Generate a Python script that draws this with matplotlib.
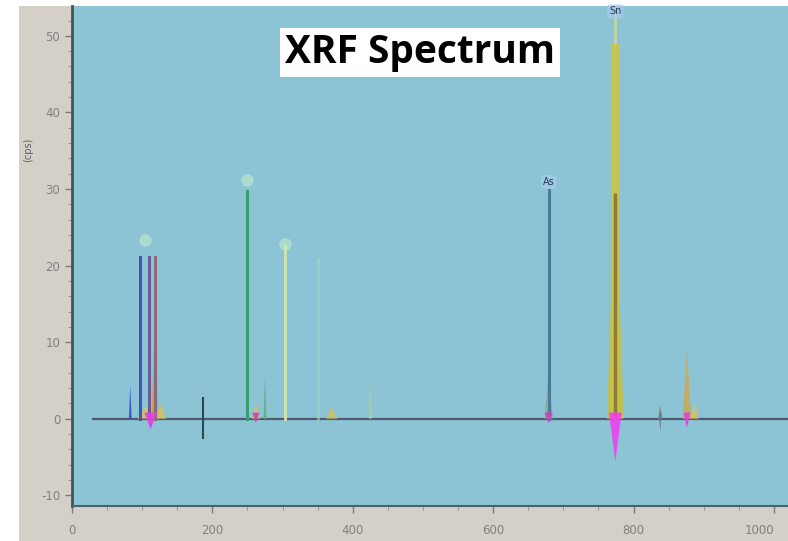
import matplotlib
matplotlib.use("Agg")
import matplotlib.pyplot as plt
from matplotlib.patches import Rectangle

# ---- data ----
title = "XRF Spectrum"
y_label = "(cps)"
x_ticks = [0, 200, 400, 600, 800, 1000]
x_ticklabels = ["0", "200", "400", "600", "800", "1000"]
y_ticks = [-10, 0, 10, 20, 30, 40, 50]
y_ticklabels = ["-10", "0", "10", "20", "30", "40", "50"]

# element marker lines (position, height)
stick_pos = [97, 110, 118, 249, 303, 350, 679, 774]
stick_h = [21.1, 21.1, 21.1, 29.8, 22.5, 20.8, 29.9, 53.6]
stick_col = ["#4454b0", "#6a5a98", "#8a6a78", "#3a9e6e", "#d6e6a8", "#a9d2b8",
             "#4a7a98", "#c8dca0"]
stick_alpha = [1.0, 1.0, 1.0, 1.0, 0.9, 0.6, 1.0, 0.8]

# broad main peak bands (position, height)
band_pos = [774, 774]
band_h = [49.0, 29.5]
band_col = ["#c8c448", "#8a7436"]
band_lw = [6, 2.5]

# element labels (position, height, text)
label_pos = [104, 249, 303, 679, 774]
label_h = [23.4, 31.2, 22.8, 30.9, 53.2]
label_txt = ["", "", "", "As", "Sn"]

# filled peaks (centre, height, half width)
peak_pos = [83, 105, 118, 126, 275, 262, 370, 425, 679, 774, 838, 876, 887]
peak_h = [4.4, 1.5, 11.6, 2.0, 5.8, 2.0, 1.5, 5.0, 6.0, 32.0, 1.8, 9.0, 2.0]
peak_hw = [2, 12, 5, 8, 2, 6, 8, 2, 6, 12, 3, 6, 6]
peak_col = ["#3048c8", "#d8c060", "#d49a30", "#d8c060", "#58b078", "#d0c060",
            "#d0c060", "#a8d0a0", "#8aa890", "#c8c040", "#7a8a90",
            "#d0a850", "#d8c060"]

# negative lobes (centre, depth, half width)
neg_pos = [112, 187, 262, 679, 774, 838, 876]
neg_d = [-1.4, -2.5, -0.6, -0.6, -5.6, -1.8, -1.2]
neg_hw = [9, 1, 5, 6, 9, 2, 5]
neg_col = ["#e040e0", "#2a4a50", "#d040c0", "#d040c0", "#f040f0", "#6a7a88", "#e040e0"]

BG = "#8cc4d6"
GREY = "#d4d0c8"

fig = plt.figure(figsize=(7.88, 5.41), dpi=100, facecolor="white")
fig.patches.append(Rectangle((19 / 788, 0), 1, 535 / 541, transform=fig.transFigure,
                             facecolor=GREY, edgecolor="none", zorder=-10))

ax = fig.add_axes([72 / 788, 35 / 541, 716 / 788, 500 / 541])
ax.set_facecolor(BG)
ax.set_xlim(0, 1020)
ax.set_ylim(-11.4, 53.9)

# baseline
ax.plot([30, 1020], [0, 0], color="#4e5a70", lw=1.6, zorder=2)

# filled peaks
for c, h, w, col in zip(peak_pos, peak_h, peak_hw, peak_col):
    ax.fill([c - w, c, c + w], [0, h, 0], color=col, alpha=0.85, lw=0, zorder=3)

# broad bands
for i, (p, h, col, lw) in enumerate(zip(band_pos, band_h, band_col, band_lw)):
    ax.plot([p, p], [0, h], color=col, lw=lw, alpha=0.9, solid_capstyle="butt",
            zorder=4 + i)

for c, d, w, col in zip(neg_pos, neg_d, neg_hw, neg_col):
    ax.fill([c - w, c, c + w], [0.8, d, 0.8], color=col, alpha=0.9, lw=0, zorder=6)

# marker lines
for p, h, col, a in zip(stick_pos, stick_h, stick_col, stick_alpha):
    ax.plot([p, p], [0, h], color=col, lw=2.2, alpha=a, zorder=3.5)
ax.plot([187, 187], [-2.5, 2.7], color="#2a4a50", lw=1.5, zorder=5)

# labels
for p, h, t in zip(label_pos, label_h, label_txt):
    if t:
        ax.text(p, h, t, ha="center", va="center", fontsize=7, color="#2a3a60",
                bbox=dict(boxstyle="round,pad=0.2", fc="#a8cce8", ec="none", alpha=0.7),
                zorder=7)
    else:
        ax.plot(p, h, "o", ms=9, color="#c8f0c8", alpha=0.55, mec="none", zorder=7)

# title box
ax.text(0.486, 0.907, title, transform=ax.transAxes, ha="center", va="center",
        fontsize=28, fontweight="bold", family="Open Sans", color="black",
        bbox=dict(boxstyle="square,pad=0.12", fc="white", ec="none"), zorder=10)

# axes styling
for s in ["top", "right"]:
    ax.spines[s].set_visible(False)
ax.spines["left"].set_color("#3e5560")
ax.spines["left"].set_linewidth(2)
ax.spines["bottom"].set_color("#4e6068")
ax.spines["bottom"].set_linewidth(1.5)
ax.set_xticks(x_ticks)
ax.set_xticklabels(x_ticklabels)
ax.set_yticks(y_ticks)
ax.set_yticklabels(y_ticklabels)
ax.set_xticks(range(0, 1021, 50), minor=True)
ax.set_yticks(range(-10, 54, 2), minor=True)
ax.tick_params(axis="both", colors="#7a7a7a", labelsize=8.5, length=5, width=1)
ax.tick_params(axis="both", which="minor", colors="#8a8a8a", length=3)
ax.tick_params(axis="x", labelcolor="#808080", pad=8)
ax.tick_params(axis="y", labelcolor="#808080")
ax.get_xticklabels()[-1].set_horizontalalignment("right")
fig.text(28 / 788, 1 - 150 / 541, y_label, rotation=90, ha="center", va="center",
         fontsize=7, color="#606060")

fig.savefig("out.png", dpi=100, facecolor=fig.get_facecolor())
